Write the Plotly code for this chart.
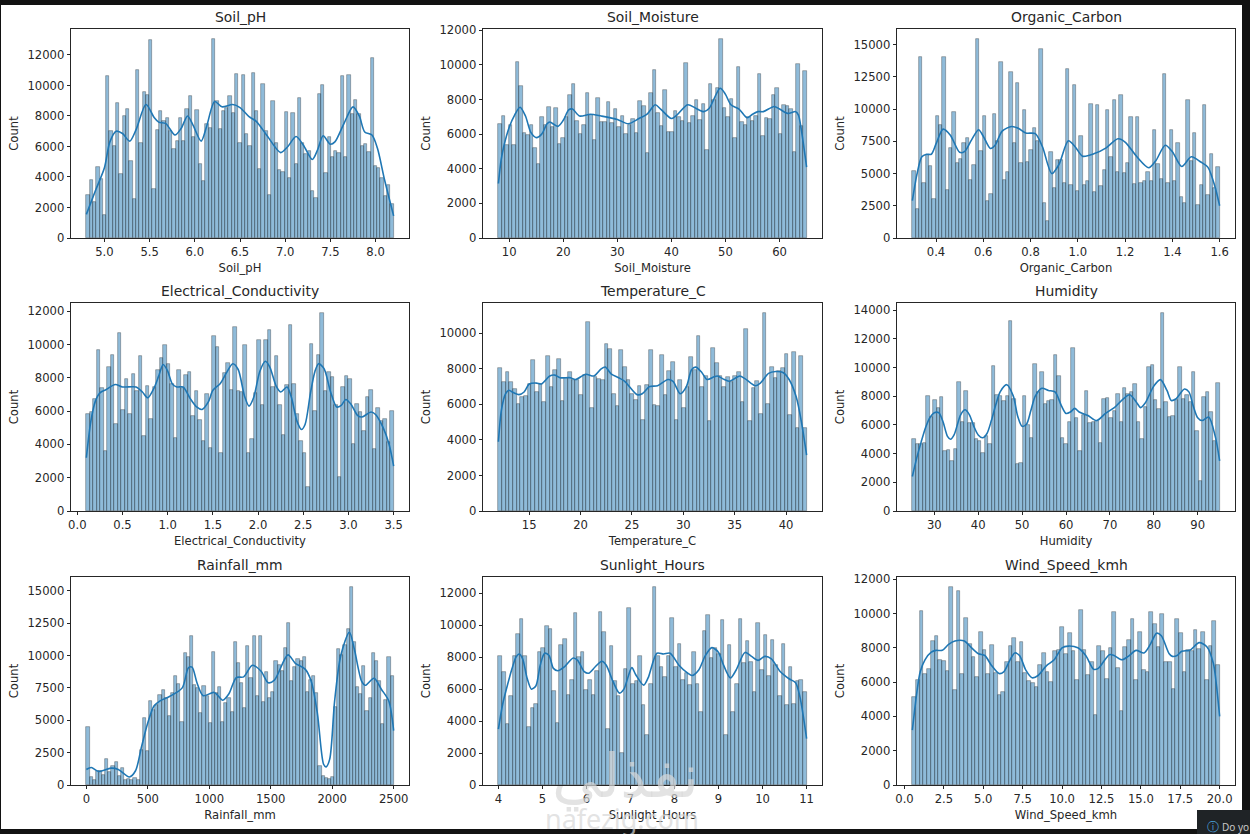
import plotly.graph_objects as go

W, H = 1250, 834

# bar heights
soil_ph = [2850,3800,2350,4650,3850,1500,10650,7000,6000,8850,4200,8000,8450,5050,2550,11000,6250,9550,9400,12950,3200,7100,8350,7700,7850,7000,5850,6350,7900,6350,8450,9300,6600,8400,4850,3750,7500,7200,13050,8950,7150,8300,8500,9300,8200,10750,6250,10700,6850,6050,10850,8300,4500,10100,7000,2800,8950,6200,4450,4300,8250,3950,8200,4850,9150,6200,5500,5700,3100,2600,9450,10050,4250,6600,5300,5700,5600,10650,5300,10700,8100,9050,8150,6000,6150,5650,11800,4700,4600,3950,2750,3500,2200]
soil_moisture = [6600,7050,5400,6500,5400,10150,8800,6050,5950,6500,5200,4250,7000,6550,7550,6400,7500,5450,5800,7000,8250,8900,6750,6000,6550,8350,7100,5650,8100,6700,6700,7850,6650,7450,6400,7050,6000,6500,6850,6050,7900,7650,4900,8400,9700,7250,6450,8550,6100,6150,7350,7000,6750,10100,6650,7050,7950,6800,7750,5100,8900,7950,8650,11500,7500,7000,8050,5800,9900,6700,6550,7000,6750,7050,9500,5900,6950,6850,8250,8650,6000,7700,7600,7450,4950,10050,6450,9650]
organic_carbon = [5200,2250,14050,4250,6450,5600,3050,9500,8800,14050,3700,7000,9750,5850,6100,7350,7750,4500,5650,15450,6750,9500,2900,3450,9600,7500,13700,4500,5100,12900,7400,12050,5850,9950,5900,6850,8550,7500,14700,2750,1350,6700,3850,6050,6050,4300,13150,4100,11900,3650,7950,4150,4450,10400,3600,10300,4050,5250,9900,6250,10750,5100,11100,5050,5800,9400,4200,9400,4300,4400,5100,4400,8350,5750,4550,12700,4250,8400,4450,7400,3200,2700,10700,6000,8150,2600,4100,10300,3350,6550,3900,5500]
electrical = [5800,5950,6700,9650,7400,3600,8650,9350,5200,10700,6050,7950,5800,8250,7200,9300,4500,7500,5550,7450,8500,9200,10000,8850,7600,4400,8500,7400,8150,8350,5700,7200,5450,4200,7000,3800,10500,9850,3500,8300,8900,7250,11050,7200,7150,10000,3500,4300,7100,10250,6350,10250,10850,7450,9300,6350,4550,7550,11200,7600,5850,4200,3500,1450,10050,6000,9350,11900,7200,8350,8050,6350,2050,7450,8100,7950,4000,6400,5950,4800,6850,7250,3700,6200,5400,5500,4150,6000]
temperature = [8050,7250,7800,7250,6850,6000,6400,6450,7150,8500,6700,7150,6150,8750,7000,7950,8550,6200,7500,7800,7400,7350,6550,7650,10650,5800,7550,7450,7350,9400,9100,6600,5900,9050,8100,7400,6600,6250,7050,5150,7100,9050,5950,5900,8800,6550,7900,8400,5100,7400,5800,7000,8650,7950,9850,7000,7600,5050,9150,8350,7600,7000,7550,7250,7600,7800,6150,10250,5050,6900,7300,5450,11150,6000,8100,7500,7900,8050,8850,5400,8950,4700,8750,4700]
humidity = [5000,4700,4700,4750,8000,6550,7700,7150,7950,4200,4250,3450,4300,9000,6200,8350,6100,6150,5050,4850,4050,5250,4700,10100,8100,8000,7650,8000,13250,7800,3300,3350,8000,6000,5100,10250,8300,9700,7450,7650,7700,10850,9400,5100,4650,6200,11350,6450,4200,6700,8350,6100,6200,6300,4750,7800,7850,6450,7000,8150,6200,8550,8150,8300,8850,6200,5050,7250,10000,10200,7700,7100,13800,7600,6550,6600,7750,10050,7800,8100,7600,9650,5550,2100,7950,8300,6900,4900,8900]
rainfall = [4450,600,400,1050,1050,800,2000,1000,1500,1750,700,1350,400,450,400,550,400,2700,5150,2600,6500,5800,6150,6950,7300,6700,5300,7100,8400,7800,4900,10200,9850,11500,7700,7500,5550,7650,6900,4800,10300,7100,7550,4900,6350,6700,5650,11050,9400,7850,5950,10750,8300,11500,6850,11500,6400,8700,6700,7200,9600,9300,8800,10600,12500,8000,9150,9700,9600,9900,7150,8100,8400,7100,1500,700,550,450,650,6000,10500,10050,10850,12050,15300,11050,7600,7000,9200,5750,6750,10200,9600,8000,4700,6550,9850,8400]
sunlight = [8100,7100,3800,5600,8050,9450,10400,8100,3600,4850,5100,8300,8550,9950,9750,5900,3850,8750,9150,5650,6550,10750,8000,8350,5950,6600,5650,7150,10850,9600,3500,8700,6500,5550,2000,7250,11100,6350,6500,8100,5000,3150,6350,12400,8050,7400,6750,8050,10450,7400,8850,6600,7000,6250,8300,6300,4600,9650,10650,7950,8600,8200,10350,3150,8750,4600,6300,10400,7650,9000,7700,5800,10150,7200,9400,6850,9050,7500,5600,8800,5000,7400,5100,6500,6600,5800]
wind_speed = [5150,6150,10150,6450,6750,8400,8700,7300,7250,6650,11550,5550,11300,6450,9750,8250,7450,6300,8950,7900,6450,8150,6550,5250,5450,7200,8100,8600,7150,8350,6550,6050,5950,5700,7000,7700,6600,6000,7800,7900,9200,7650,8850,7800,6100,10200,7900,6400,7150,4100,8100,7800,6200,8000,10100,6800,4300,8050,8450,9700,6100,8950,6700,6600,10100,9400,8050,9950,7150,7150,5600,9700,8850,6600,7900,7800,9050,7950,8950,6100,8100,9550,7000]

# kde curves
soil_ph_kde_x = [4.8,4.9,5.0,5.06,5.13,5.2,5.28,5.35,5.46,5.55,5.6,5.68,5.78,5.85,5.92,5.98,6.07,6.13,6.22,6.3,6.42,6.5,6.6,6.68,6.8,6.95,7.03,7.12,7.2,7.3,7.36,7.42,7.5,7.55,7.65,7.75,7.82,7.88,7.96,8.02,8.1,8.2]
soil_ph_kde_y = [1550,3100,4600,6300,7000,6850,6350,7100,8750,7900,7600,7500,6750,7200,8000,7400,6350,7300,8950,8600,8750,8550,7950,7650,6700,5600,6000,6650,6100,5150,5800,6700,6150,6300,7500,8600,8000,6950,6750,5900,3800,1450]
moisture_kde_x = [8,8.5,9,10,11,12,13,14,15,16,17,17.5,19,20,21,21.7,23,25,27,30,32,34,35.5,37,38,40,41,43,44.5,46,47,49,50,51,52.5,54,55,56,57,59,60,61.5,63,63.5,64,65]
moisture_kde_y = [3150,4500,5300,6400,7100,7550,7050,6100,5800,6000,6600,6700,6450,6800,7400,7450,7050,7150,7050,6850,6600,6900,7150,7700,7450,6900,7100,7700,7500,7300,7500,8650,8300,7700,7450,6950,7150,7300,7300,7600,7450,7200,7300,7100,6300,4100]
carbon_kde_x = [0.3,0.32,0.34,0.36,0.38,0.4,0.43,0.46,0.5,0.52,0.55,0.58,0.6,0.63,0.65,0.68,0.72,0.75,0.78,0.82,0.85,0.89,0.92,0.96,0.99,1.02,1.07,1.12,1.17,1.2,1.25,1.3,1.33,1.37,1.4,1.44,1.48,1.52,1.55,1.58,1.6]
carbon_kde_y = [2900,5000,6300,6500,6500,7300,8450,8000,6650,6700,7600,8400,7900,6950,7200,8300,8650,8500,8150,8100,7100,5000,5700,7550,7050,6350,6550,7000,7700,7450,6300,5450,6000,7200,6700,5550,6300,5900,5500,4000,2500]
electrical_kde_x = [0.1,0.15,0.2,0.25,0.32,0.42,0.5,0.65,0.72,0.78,0.85,0.9,0.95,1.0,1.05,1.1,1.17,1.25,1.32,1.38,1.45,1.5,1.58,1.65,1.72,1.78,1.85,1.9,1.95,2.02,2.08,2.13,2.2,2.25,2.32,2.37,2.43,2.48,2.52,2.58,2.63,2.67,2.73,2.8,2.87,2.92,2.97,3.03,3.1,3.15,3.25,3.3,3.38,3.45,3.5]
electrical_kde_y = [3200,5400,6600,7100,7300,7600,7450,7450,7150,6800,7400,8100,8800,8400,7650,7450,7450,6750,6250,6100,6550,7250,7650,8300,8850,8500,6900,6300,6800,8400,9000,8650,7500,7150,7450,6800,5400,4900,5200,7100,8400,8850,8550,7200,6250,6350,6700,6400,5750,5650,5950,5800,5050,4000,2700]
temperature_kde_x = [12,12.3,12.7,13,13.5,14,14.5,15,15.7,16.2,17,17.5,18,19,19.5,20.5,21.3,22,22.4,23,23.7,24.3,25.5,26,26.7,27.5,28.5,29,29.7,30.3,30.8,31.2,31.8,32.3,33,33.3,34,34.5,35.5,36,37,37.5,38.3,39,39.7,40.3,41,41.5,42]
temperature_kde_y = [3900,5700,6600,6800,6650,6550,6700,7150,7200,7150,7600,7650,7500,7500,7400,7700,7600,8000,8100,7700,7500,7300,6550,6600,7000,7050,7400,7300,6600,7000,7950,8100,7800,7400,7550,7600,7400,7300,7600,7450,7050,7200,7750,7850,7800,7400,6400,5000,3150]
humidity_kde_x = [25,26,27,28,29,30,31,32,33,33.7,34.5,36,37,38,39,40,41,42,43,44,45,46.5,48,49,50,51,52,53,54.5,56,57.5,59,60,61,62,63,65,67,69,71,73,74.5,76,77,78,80,81.5,83,84,85,87,88,89,90,91,92.5,94,95]
humidity_kde_y = [2400,3700,4800,5800,6500,6850,6850,6200,5200,5000,5300,6700,7050,6700,5900,5300,5100,5400,6300,7400,8300,8800,8000,6600,5900,6050,7000,8000,8550,8400,8300,7300,6800,6900,7150,6900,6650,6300,6800,7200,7800,8100,7600,7200,7500,8700,9150,8400,7700,7800,8500,8300,7300,6500,6300,6550,5200,3500]
rainfall_kde_x = [0,40,100,200,260,350,400,450,500,550,600,680,780,830,860,900,950,1040,1110,1160,1220,1280,1350,1420,1480,1530,1640,1700,1780,1830,1880,1930,1950,1980,2020,2070,2140,2180,2240,2270,2340,2400,2460,2500]
rainfall_kde_y = [1200,1350,1050,1300,1200,620,1100,3000,4800,6100,6500,6850,7500,9050,9100,7900,6900,7150,6550,7050,8300,8350,9250,8800,7900,8100,10050,9400,8950,8000,5500,1600,1400,2000,6500,10000,11800,10500,8000,7700,8250,7400,6500,4200]
sunlight_kde_x = [4,4.1,4.2,4.3,4.4,4.47,4.55,4.65,4.75,4.85,4.95,5.05,5.15,5.25,5.35,5.5,5.7,5.8,5.95,6.05,6.2,6.35,6.45,6.6,6.75,6.85,7.03,7.12,7.3,7.4,7.6,7.75,7.9,8.1,8.3,8.4,8.55,8.7,8.85,9,9.1,9.27,9.4,9.6,9.75,9.9,10.05,10.2,10.4,10.6,10.75,10.85,11]
sunlight_kde_y = [3500,5100,6200,7200,8000,8200,7900,6700,6000,6200,7500,8250,8100,7300,7150,7400,7950,7800,7100,7000,7400,7750,7500,6500,5750,6000,7350,6900,6250,6700,8250,8200,8250,7500,7000,6850,7200,8100,8600,8300,7600,6700,7200,8300,8050,7800,8050,7900,7100,6650,6400,5500,2900]
wind_kde_x = [0.5,0.8,1,1.3,1.7,2,2.4,2.8,3.2,3.8,4.2,4.7,5.1,5.5,6,6.3,6.7,7,7.3,7.7,8.1,8.5,9,9.5,10,10.4,11,11.5,12,12.3,13,13.3,13.8,14.2,14.7,15.2,15.6,16,16.3,16.8,17,17.3,17.6,18.1,18.7,19.2,19.6,19.8,20]
wind_kde_y = [3200,5500,6600,7300,7750,7850,7850,8200,8400,8400,8050,7650,7550,7000,6500,6600,7300,7700,7550,6700,6250,6400,6950,7300,8000,8100,8000,7550,6750,6800,7600,7550,7300,7500,7850,7700,8200,8850,8700,7650,7500,7550,7800,7850,8300,8050,7100,5800,4000]

# name, x limits, bars, kde x, kde y, x ticks, y ticks, tick format
panels = [
    ("Soil_pH", 4.8, 8.2, soil_ph, soil_ph_kde_x, soil_ph_kde_y, [5,5.5,6,6.5,7,7.5,8], [0,2000,4000,6000,8000,10000,12000], ".1f"),
    ("Soil_Moisture", 8, 65, soil_moisture, moisture_kde_x, moisture_kde_y, [10,20,30,40,50,60], [0,2000,4000,6000,8000,10000,12000], "d"),
    ("Organic_Carbon", 0.3, 1.6, organic_carbon, carbon_kde_x, carbon_kde_y, [0.4,0.6,0.8,1,1.2,1.4,1.6], [0,2500,5000,7500,10000,12500,15000], ".1f"),
    ("Electrical_Conductivity", 0.1, 3.5, electrical, electrical_kde_x, electrical_kde_y, [0,0.5,1,1.5,2,2.5,3,3.5], [0,2000,4000,6000,8000,10000,12000], ".1f"),
    ("Temperature_C", 12, 42, temperature, temperature_kde_x, temperature_kde_y, [15,20,25,30,35,40], [0,2000,4000,6000,8000,10000], "d"),
    ("Humidity", 25, 95, humidity, humidity_kde_x, humidity_kde_y, [30,40,50,60,70,80,90], [0,2000,4000,6000,8000,10000,12000,14000], "d"),
    ("Rainfall_mm", 0, 2500, rainfall, rainfall_kde_x, rainfall_kde_y, [0,500,1000,1500,2000,2500], [0,2500,5000,7500,10000,12500,15000], "d"),
    ("Sunlight_Hours", 4, 11, sunlight, sunlight_kde_x, sunlight_kde_y, [4,5,6,7,8,9,10,11], [0,2000,4000,6000,8000,10000,12000], "d"),
    ("Wind_Speed_kmh", 0.5, 20, wind_speed, wind_kde_x, wind_kde_y, [0,2.5,5,7.5,10,12.5,15,17.5,20], [0,2000,4000,6000,8000,10000,12000], ".1f"),
]

# axes boxes in pixels
col_px = [(71, 409), (483, 822), (897, 1235)]
row_px = [(29, 238), (303, 511), (577, 785)]

font = "DejaVu Sans"
ink = "#262626"

fig = go.Figure()
layout = {}
notes = []

for i, (name, lo, hi, bars, kx, ky, xt, yt, fmt) in enumerate(panels):
    suffix = "" if i == 0 else str(i + 1)
    x0, x1 = col_px[i % 3]
    y0, y1 = row_px[i // 3]
    step = (hi - lo) / len(bars)
    edges = [lo + step * (n + 0.5) for n in range(len(bars))]
    fig.add_trace(go.Bar(x=edges, y=bars, width=step, xaxis="x" + suffix, yaxis="y" + suffix,
                         marker=dict(color="rgba(31,119,180,0.5)",
                                     line=dict(color="rgba(0,0,0,0.4)", width=0.7)),
                         showlegend=False))
    fig.add_trace(go.Scatter(x=kx, y=ky, mode="lines", xaxis="x" + suffix, yaxis="y" + suffix,
                             line=dict(color="#1f77b4", width=1.6, shape="spline", smoothing=0.8),
                             showlegend=False))
    pad = (hi - lo) * 0.05
    layout["xaxis" + suffix] = dict(
        domain=[x0 / W, x1 / W], anchor="y" + suffix, range=[lo - pad, hi + pad], automargin=False,
        tickvals=xt, tickformat=fmt, ticks="outside", ticklen=3.5, tickwidth=0.8, tickcolor=ink,
        showline=True, linecolor=ink, linewidth=0.8, mirror=True, showgrid=False, zeroline=False,
        title=dict(text=name, standoff=5, font=dict(size=11.6, color=ink, family=font)),
        tickfont=dict(size=11.6, color=ink, family=font))
    layout["yaxis" + suffix] = dict(
        domain=[1 - y1 / H, 1 - y0 / H], anchor="x" + suffix, range=[0, max(bars) * 1.05], automargin=False,
        tickvals=yt, tickformat="d", ticks="outside", ticklen=3.5, tickwidth=0.8, tickcolor=ink,
        showline=True, linecolor=ink, linewidth=0.8, mirror=True, showgrid=False, zeroline=False,
        title=dict(text="Count", standoff=6, font=dict(size=11.6, color=ink, family=font)),
        tickfont=dict(size=11.6, color=ink, family=font))
    notes.append(dict(text=name, x=(x0 + x1) / 2 / W, y=1 - (y0 - 2) / H, xref="paper", yref="paper",
                      xanchor="center", yanchor="bottom", showarrow=False,
                      font=dict(size=13.9, color=ink, family=font)))

# watermark and the browser toast in the corner
notes.append(dict(text="نفذلي", x=625 / W, y=1 - 776 / H, xref="paper", yref="paper", showarrow=False,
                  yanchor="middle", font=dict(size=60, color="rgba(215,215,215,0.7)", family=font)))
notes.append(dict(text="nafezig.com", x=622 / W, y=1 - 818 / H, xref="paper", yref="paper", showarrow=False,
                  yanchor="middle", font=dict(size=27, color="rgba(215,215,215,0.7)", family="Noto Sans")))
notes.append(dict(text="ⓘ", x=1205 / W, y=1 - 827 / H, xref="paper", yref="paper", showarrow=False,
                  xanchor="left", yanchor="middle", font=dict(size=12, color="#4a9fd8", family=font)))
notes.append(dict(text="Do yo", x=1220 / W, y=1 - 827 / H, xref="paper", yref="paper", showarrow=False,
                  xanchor="left", yanchor="middle", font=dict(size=10, color="#c8c8c8", family="Noto Sans")))

fig.update_layout(
    width=W, height=H, margin=dict(l=0, r=0, t=0, b=0, autoexpand=False), bargap=0, barmode="overlay",
    paper_bgcolor="#121212", plot_bgcolor="white", annotations=notes,
    shapes=[
        dict(type="rect", xref="paper", yref="paper", x0=1 / W, x1=1242 / W, y0=1 - 829 / H, y1=1 - 5 / H,
             fillcolor="white", line_width=0, layer="below"),
        dict(type="rect", xref="paper", yref="paper", x0=1197 / W, x1=1, y0=0, y1=1 - 810 / H,
             fillcolor="#1f2326", line_width=0, layer="above"),
    ],
    **layout)

fig.write_html("out.html", config={"displayModeBar": False},
               post_script="document.body.style.margin='0';document.body.style.overflow='hidden';")
